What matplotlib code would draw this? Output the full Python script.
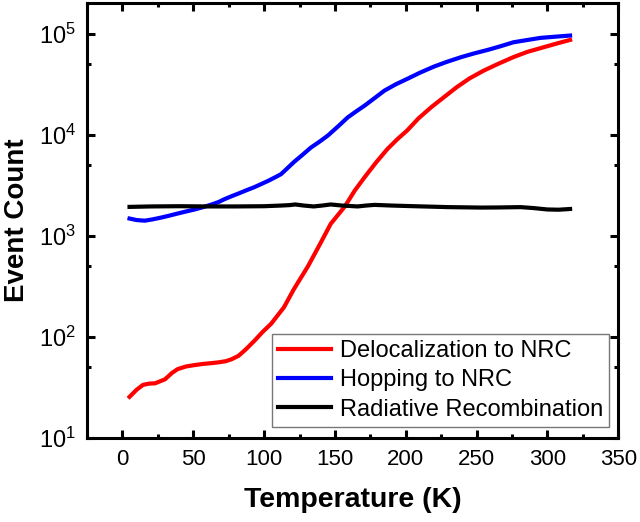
import numpy as np
import matplotlib
matplotlib.use('Agg')
import matplotlib.pyplot as plt
from matplotlib.ticker import MultipleLocator, LogLocator, NullFormatter

plt.rcParams['font.family'] = ['Liberation Sans', 'DejaVu Sans']
plt.rcParams['mathtext.fontset'] = 'custom'
plt.rcParams['mathtext.rm'] = 'Liberation Sans'
plt.rcParams['mathtext.it'] = 'Liberation Sans:italic'
plt.rcParams['mathtext.bf'] = 'Liberation Sans:bold'

# temperature (K) and event counts for each channel
T_deloc = [5, 10, 14.5, 19, 23, 30, 35, 39, 45, 51, 57, 63, 68, 73, 77, 82, 87, 93,
           99, 105, 114, 121, 131, 140, 147, 157, 164, 171, 179, 187, 194, 201,
           209, 218, 227, 236, 245, 255, 265, 276, 286, 297, 307, 316]
n_deloc = [25.5, 30, 33.5, 34.5, 34.7, 38, 44, 48, 51, 52.6, 54, 55, 56, 57.5, 60,
           65, 75, 91, 112, 135, 196, 296, 500, 855, 1310, 1950, 2800, 3800, 5300,
           7200, 9000, 11000, 14500, 18700, 23500, 29500, 36000, 43000, 50000,
           58500, 66000, 73000, 80000, 86500]

T_hop = [5, 10, 15.7, 21, 27.5, 33, 39, 45, 51, 57, 63, 68, 72, 77, 82, 87, 93,
         98, 103, 108, 112, 121, 127, 133, 139, 145, 152, 159, 165, 171, 178, 185,
         193, 201, 210, 220, 229, 239, 248, 258, 267, 276, 285, 295, 305, 316]
n_hop = [1480, 1430, 1410, 1450, 1515, 1580, 1660, 1740, 1820, 1920, 2040, 2160,
         2300, 2460, 2620, 2800, 3020, 3250, 3500, 3800, 4070, 5350, 6300, 7450,
         8500, 9800, 12000, 14800, 17000, 19400, 23000, 27300, 31500, 35600,
         41000, 47200, 52500, 58400, 63500, 69000, 75000, 82000, 86000, 90600,
         93000, 95600]

T_rad = [5, 20, 40, 60, 80, 100, 112, 118, 122, 128, 135, 141, 147, 155, 166,
         172, 178, 190, 206, 218, 230, 242, 253, 265, 281, 290, 300, 308, 316]
n_rad = [1930, 1950, 1960, 1950, 1950, 1960, 1990, 2010, 2040, 1990, 1950, 1990,
         2040, 1990, 1950, 1990, 2020, 1990, 1960, 1940, 1920, 1910, 1900, 1905,
         1920, 1880, 1820, 1810, 1840]

fig = plt.figure(figsize=(6.4, 5.22), dpi=100)
ax = fig.add_axes([0.136, 0.161, 0.830, 0.833])

ax.plot(T_deloc, n_deloc, color='#ff0000', lw=3, label='Delocalization to NRC')
ax.plot(T_hop, n_hop, color='#0000ff', lw=3, label='Hopping to NRC')
ax.plot(T_rad, n_rad, color='black', lw=3, label='Radiative Recombination')

ax.set_yscale('log')
ax.set_xlim(-25, 350)
ax.set_ylim(10, 2e5)
ax.xaxis.set_major_locator(MultipleLocator(50))
ax.xaxis.set_minor_locator(MultipleLocator(25))
ax.yaxis.set_major_locator(LogLocator(base=10, numticks=10))
ax.yaxis.set_minor_locator(LogLocator(base=10, subs=[5], numticks=10))
ax.yaxis.set_minor_formatter(NullFormatter())

for s in ax.spines.values():
    s.set_linewidth(2.2)
ax.tick_params(which='both', direction='in', top=True, right=True, width=2.2)
ax.tick_params(which='major', length=6)
ax.tick_params(which='minor', length=3)
ax.tick_params(axis='x', which='major', labelsize=16, pad=8)
ax.tick_params(axis='y', which='major', labelsize=17, pad=8)

ax.set_xlabel('Temperature (K)', fontsize=20.5, fontweight='bold', labelpad=12)
ax.set_ylabel('Event Count', fontsize=20, fontweight='bold', labelpad=6)

leg = ax.legend(loc='lower right', fontsize=17, frameon=True, fancybox=False,
                edgecolor='#555555', handlelength=2.25, handletextpad=0.35,
                borderpad=0.27, labelspacing=0.31, borderaxespad=0,
                bbox_to_anchor=(0.983, 0.025))
leg.get_frame().set_linewidth(1.0)

fig.savefig('out.png', dpi=100)
